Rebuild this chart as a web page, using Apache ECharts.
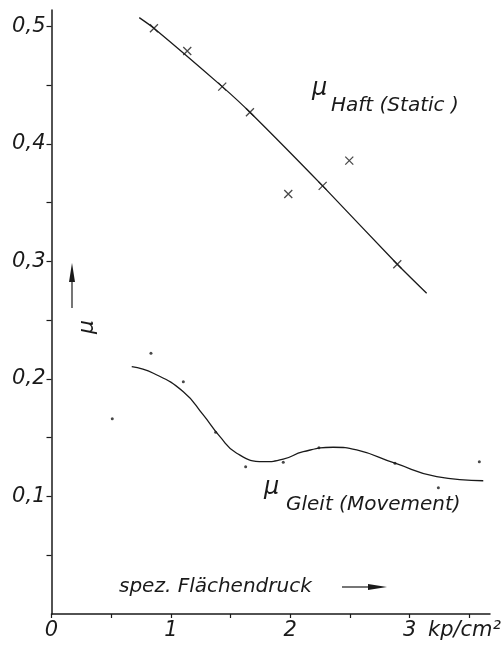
<!DOCTYPE html>
<html>
<head>
<meta charset="utf-8">
<script src="https://cdn.jsdelivr.net/npm/echarts@6/dist/echarts.min.js"></script>
<style>html,body{margin:0;padding:0;background:#fff;}#c{width:504px;height:649px;}</style>
</head>
<body>
<div id="c"></div>
<script>
// Static friction (Haft) measured points [pressure kp/cm2, mu]
const haftX = [0.858, 1.137, 1.430, 1.662, 1.983, 2.271, 2.494, 2.896];
const haftY = [0.4985, 0.4791, 0.4488, 0.4270, 0.3574, 0.3643, 0.3858, 0.2976];
// Static fitted line
const haftFitX = [0.735, 0.858, 1.430, 1.662, 2.271, 2.896, 3.142];
const haftFitY = [0.5075, 0.4985, 0.4488, 0.4270, 0.3643, 0.2976, 0.2729];
// Sliding friction (Gleit) measured points
const gleitX = [0.509, 0.833, 1.104, 1.375, 1.626, 1.941, 2.240, 2.877, 3.240, 3.583];
const gleitY = [0.1662, 0.2219, 0.1977, 0.1546, 0.1254, 0.1291, 0.1415, 0.1283, 0.1075, 0.1296];
// Sliding fitted curve
const gleitFitX = [0.672, 0.853, 1.104, 1.271, 1.411, 1.551, 1.774, 1.941, 2.109, 2.360, 2.556, 2.877, 3.226, 3.616];
const gleitFitY = [0.2105, 0.2049, 0.1892, 0.1694, 0.1509, 0.1368, 0.1296, 0.1317, 0.1381, 0.1419, 0.1396, 0.1283, 0.1169, 0.1134];
// Axis ticks
const xTicks = [0, 0.5, 1, 1.5, 2, 2.5, 3, 3.5];
const xLabels = [0, 1, 2, 3];
const yTicks = [0.05, 0.1, 0.15, 0.2, 0.25, 0.3, 0.35, 0.4, 0.45, 0.5];
const yLabels = [0.1, 0.2, 0.3, 0.4, 0.5];

const zip = (a, b) => a.map((v, i) => [v, b[i]]);
const INK = '#1a1a1a';
const FONT = '"DejaVu Sans", sans-serif';
const txt = (text, x, y, size) => ({type: 'text', style: {text: text, x: x, y: y, font: 'italic ' + size + 'px ' + FONT, fill: INK}});

const chart = echarts.init(document.getElementById('c'), null, {renderer: 'canvas'});
chart.setOption({
  animation: false,
  backgroundColor: '#fff',
  grid: {left: 51.5, top: 10, width: 438.5, height: 604, containLabel: false},
  xAxis: {
    type: 'value', min: 0, max: 3.6725,
    splitLine: {show: false},
    axisLine: {lineStyle: {color: INK, width: 1.5}},
    axisTick: {customValues: xTicks, length: 4, lineStyle: {color: INK, width: 1.2}},
    axisLabel: {customValues: xLabels, margin: 6, color: INK, fontFamily: FONT, fontStyle: 'italic', fontSize: 21,
      formatter: v => String(v)}
  },
  yAxis: {
    type: 'value', min: 0, max: 0.514,
    splitLine: {show: false},
    axisLine: {lineStyle: {color: INK, width: 1.5}},
    axisTick: {customValues: yTicks, length: 5, lineStyle: {color: INK, width: 1.2}},
    axisLabel: {customValues: yLabels, margin: 6, color: INK, fontFamily: FONT, fontStyle: 'italic', fontSize: 21,
      formatter: v => v.toFixed(1).replace('.', ',')}
  },
  series: [
    {type: 'line', data: zip(haftFitX, haftFitY), smooth: 0.2, symbol: 'none',
      lineStyle: {color: INK, width: 1.3}},
    {type: 'scatter', data: zip(haftX, haftY), symbol: 'path://M0,0L10,10M10,0L0,10', symbolSize: 8,
      itemStyle: {color: 'none', borderColor: INK, borderWidth: 1.3}},
    {type: 'line', data: zip(gleitFitX, gleitFitY), smooth: 0.5, symbol: 'none',
      lineStyle: {color: INK, width: 1.3}},
    {type: 'scatter', data: zip(gleitX, gleitY), symbol: 'circle', symbolSize: 3,
      itemStyle: {color: INK}}
  ],
  graphic: [
    txt('μ', 312, 77, 24),
    txt('Haft (Static )', 331, 96, 20),
    txt('μ', 264, 476, 24),
    txt('Gleit (Movement)', 286, 495, 20),
    txt('spez. Flächendruck', 119, 577, 20),
    {type: 'line', shape: {x1: 342, y1: 587, x2: 370, y2: 587}, style: {stroke: INK, lineWidth: 1.2}},
    {type: 'polygon', shape: {points: [[368, 584], [387, 587], [368, 590]]}, style: {fill: INK}},
    txt('kp/cm²', 428, 620, 21),
    {type: 'text', x: 76, y: 334, rotation: Math.PI / 2, style: {text: 'μ', x: 0, y: 0, font: 'italic 22px ' + FONT, fill: INK}},
    {type: 'line', shape: {x1: 72, y1: 308, x2: 72, y2: 280}, style: {stroke: INK, lineWidth: 1.2}},
    {type: 'polygon', shape: {points: [[69, 282], [72, 263], [75, 282]]}, style: {fill: INK}}
  ]
});
</script>
</body>
</html>
